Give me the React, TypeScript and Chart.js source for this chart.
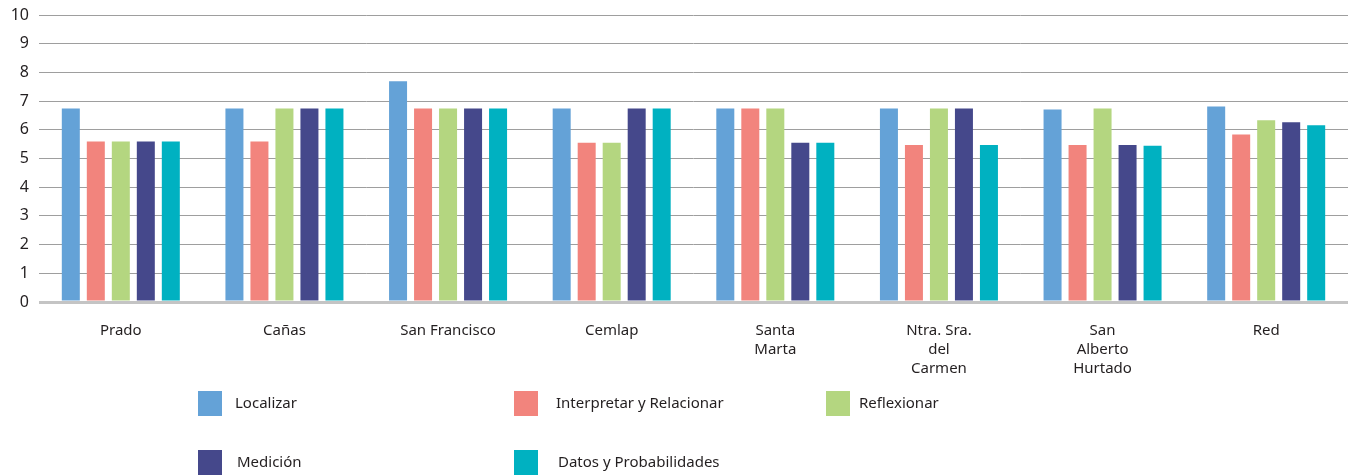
import React, { useEffect, useRef } from "react";
import { Chart, registerables } from "chart.js";

Chart.register(...registerables);

const categories: (string | string[])[] = [
  "Prado",
  "Cañas",
  "San Francisco",
  "Cemlap",
  ["Santa", "Marta"],
  ["Ntra. Sra.", "del", "Carmen"],
  ["San", "Alberto", "Hurtado"],
  "Red",
];

const seriesNames = [
  "Localizar",
  "Interpretar y Relacionar",
  "Reflexionar",
  "Medición",
  "Datos y Probabilidades",
];

const localizar = [6.74, 6.74, 7.69, 6.74, 6.74, 6.74, 6.71, 6.81];
const interpretar = [5.59, 5.59, 6.74, 5.55, 6.74, 5.47, 5.47, 5.84];
const reflexionar = [5.59, 6.74, 6.74, 5.55, 6.74, 6.74, 6.74, 6.33];
const medicion = [5.59, 6.74, 6.74, 6.74, 5.55, 6.74, 5.47, 6.26];
const datos = [5.59, 6.74, 6.74, 6.74, 5.55, 5.47, 5.44, 6.16];

const seriesValues = [localizar, interpretar, reflexionar, medicion, datos];
const colors = ["#64a2d7", "#f2847d", "#b4d680", "#45488b", "#00b1c1"];

const yTicks = [0, 1, 2, 3, 4, 5, 6, 7, 8, 9, 10];

// legend slot positions (layout only)
const legendSlots = [
  { x: 198, y: 391, tx: 235 },
  { x: 514, y: 391, tx: 556 },
  { x: 826, y: 391, tx: 859 },
  { x: 198, y: 450, tx: 237 },
  { x: 514, y: 450, tx: 558 },
];

const FONT = "'Noto Sans', 'DejaVu Sans', sans-serif";

export default function App() {
  const ref = useRef<HTMLCanvasElement | null>(null);

  useEffect(() => {
    document.body.style.margin = "0";
    const canvas = ref.current;
    if (!canvas) return;

    const legendPlugin = {
      id: "customLegend",
      afterDraw(chart: any) {
        const ctx = chart.ctx;
        ctx.save();
        ctx.font = `15px ${FONT}`;
        ctx.textBaseline = "middle";
        ctx.textAlign = "left";
        seriesNames.forEach((name, i) => {
          const s = legendSlots[i];
          ctx.fillStyle = colors[i];
          ctx.fillRect(s.x, s.y, 24, 25);
          ctx.fillStyle = "#231f20";
          ctx.fillText(name, s.tx, s.y + 13);
        });
        ctx.restore();
      },
    };

    const chart = new Chart(canvas, {
      type: "bar",
      data: {
        labels: categories,
        datasets: seriesNames.map((name, i) => ({
          label: name,
          data: seriesValues[i],
          backgroundColor: colors[i],
          borderWidth: 0,
          categoryPercentage: 0.764,
          barPercentage: 0.72,
        })),
      },
      options: {
        responsive: false,
        animation: false,
        layout: { padding: { top: 15, right: 1, left: 0, bottom: 0 } },
        plugins: {
          legend: { display: false },
          tooltip: { enabled: false },
        },
        scales: {
          x: {
            grid: { display: false, drawTicks: false },
            border: { display: false },
            ticks: {
              color: "#231f20",
              font: { family: FONT, size: 15, lineHeight: 1.27 },
              padding: 19,
              maxRotation: 0,
              autoSkip: false,
            },
            afterFit(scale: any) {
              scale.height = 174;
              scale.paddingLeft = 0;
              scale.paddingRight = 0;
            },
          },
          y: {
            min: 0,
            max: 10,
            afterBuildTicks(scale: any) {
              scale.ticks = yTicks.map((v) => ({ value: v }));
            },
            grid: {
              drawTicks: false,
              color: (c: any) => (c.tick && c.tick.value === 0 ? "#c4c4c4" : "#9e9e9e"),
              lineWidth: (c: any) => (c.tick && c.tick.value === 0 ? 3 : 1),
            },
            border: { display: false },
            ticks: {
              color: "#231f20",
              font: { family: FONT, size: 16 },
              padding: 10,
            },
            afterFit(scale: any) {
              scale.width = 39;
              scale.paddingTop = 0;
              scale.paddingBottom = 0;
            },
          },
        },
      },
      plugins: [legendPlugin],
    });

    return () => chart.destroy();
  }, []);

  return (
    <div style={{ width: 1349, height: 476 }}>
      <canvas ref={ref} width={1349} height={476} />
    </div>
  );
}
